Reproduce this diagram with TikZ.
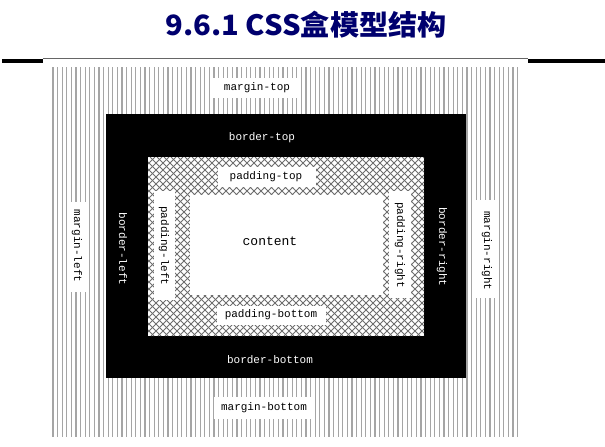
\documentclass[tikz,border=0pt]{standalone}
\usepackage{fontspec}
\newfontfamily\cjk{Noto Sans CJK SC}
\newfontfamily\lbl{Liberation Mono}
\definecolor{titleblue}{RGB}{0,0,110}
\definecolor{stripegray}{RGB}{165,165,165}
\definecolor{hatchgray}{RGB}{110,110,110}
\tikzset{
  stripe/.style={draw=stripegray,line width=1.2pt},
  hatch/.style={draw=hatchgray,line width=0.75pt},
  lab/.style={font=\lbl\fontsize{11}{11}\selectfont,inner sep=0pt,text=black},
  blab/.style={lab,text=white},
  vlab/.style={lab,rotate=-90},
  vblab/.style={blab,rotate=-90},
  labbox/.style={fill=white,draw=none}
}
\begin{document}
\begin{tikzpicture}[x=1pt,y=-1pt]
\useasboundingbox (0,0) rectangle (605,447);
% title
\node[font=\cjk\bfseries\fontsize{28}{28}\selectfont,text=titleblue,inner sep=0pt,xscale=1.04] (title) at (306,24.5) {9.6.1 CSS盒模型结构};
% top rule
\draw[draw=gray!80!black,line width=0.9pt] (43,58.5) -- (528,58.5);
\fill[black] (2,59) rectangle (43,63);
\fill[black] (528,59) rectangle (605,63);
% margin stripes
\begin{scope}
\clip (52,67) rectangle (520,437);
\foreach \i in {0,...,101} \draw[stripe] ({53+\i*4.6},67) -- ++(0,370);
\end{scope}
% border
\fill[black] (105.5,113.5) rectangle (465.5,378);
% padding crosshatch
\fill[white] (148,157) rectangle (424,336);
\begin{scope}
\clip (148,157) rectangle (424,336);
\foreach \c in {-32,-25,...,430} \draw[hatch] (\c,157) -- ++(179,179);
\foreach \c in {148,155,...,610} \draw[hatch] (\c,157) -- ++(-179,179);
\end{scope}
% content and label boxes
\fill[labbox] (190,195) rectangle (383,295);
\fill[labbox] (218,167) rectangle (316,187);
\fill[labbox] (154,191) rectangle (175,300);
\fill[labbox] (389,191) rectangle (411,298);
\fill[labbox] (217,306) rectangle (326,325);
\fill[labbox] (67,202) rectangle (89,292);
\fill[labbox] (476,200) rectangle (499,298);
\fill[labbox] (213,78) rectangle (301,98);
\fill[labbox] (214,397) rectangle (314,419);
% labels
\node[lab] (mt) at (257,88) {margin-top};
\node[blab] (bt) at (262,138) {border-top};
\node[lab] (pt) at (266,177) {padding-top};
\node[lab,font=\lbl\fontsize{13}{13}\selectfont] (ct) at (270,241) {content};
\node[vlab] (pl) at (164,246) {padding-left};
\node[vlab] (pr) at (400,245) {padding-right};
\node[vblab] (bl) at (123,249) {border-left};
\node[vblab] (br) at (442,247) {border-right};
\node[vlab] (ml) at (77,246) {margin-left};
\node[vlab] (mr) at (487,251) {margin-right};
\node[lab] (pb) at (271,315) {padding-bottom};
\node[blab] (bb) at (270,360) {border-bottom};
\node[lab] (mb) at (264,408) {margin-bottom};
\end{tikzpicture}
\end{document}
